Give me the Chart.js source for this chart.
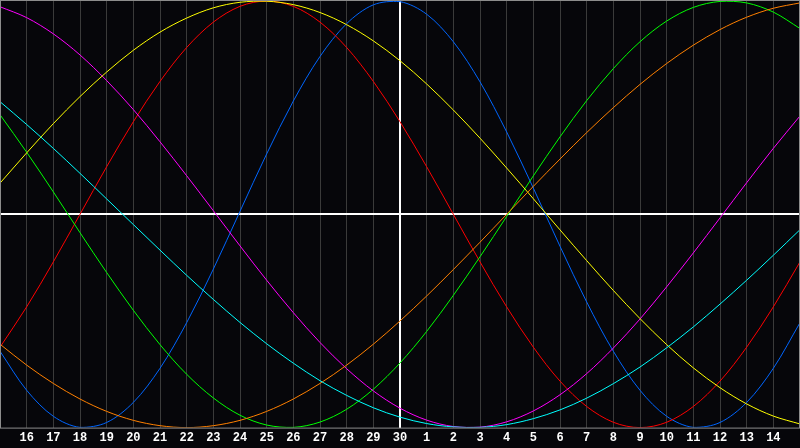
<!DOCTYPE html>
<html>
<head>
<meta charset="utf-8">
<script src="https://cdn.jsdelivr.net/npm/chart.js@4"></script>
<style>
  html, body { margin: 0; padding: 0; background: #06060a; }
  #bio { display: block; }
</style>
</head>
<body>
<canvas id="bio" width="800" height="448"></canvas>
<script>
// day labels: 15th of previous month .. 15th, today = 30
const dayLabels = ['15','16','17','18','19','20','21','22','23','24','25','26','27','28','29','30',
  '1','2','3','4','5','6','7','8','9','10','11','12','13','14','15'];

// values, one per day (-1 .. 1)
const physical = [-0.642,-0.825,-0.947,-0.999,-0.976,-0.882,-0.722,-0.508,-0.257,0.014,0.283,0.531,0.740,0.894,0.982,0.997,
  0.938,0.809,0.621,0.386,0.123,-0.150,-0.411,-0.642,-0.825,-0.947,-0.999,-0.976,-0.882,-0.722,-0.508];
const emotional = [-0.623,-0.434,-0.223,0.000,0.223,0.434,0.623,0.782,0.901,0.975,1.000,0.975,0.901,0.782,0.623,0.434,
  0.223,0.000,-0.223,-0.434,-0.623,-0.782,-0.901,-0.975,-1.000,-0.975,-0.901,-0.782,-0.623,-0.434,-0.223];
const intellectual = [0.467,0.291,0.105,-0.086,-0.273,-0.450,-0.611,-0.750,-0.861,-0.942,-0.988,-0.999,-0.974,-0.914,-0.820,-0.697,
  -0.549,-0.380,-0.199,-0.010,0.180,0.363,0.533,0.683,0.809,0.906,0.970,0.998,0.991,0.948,0.871];
const intuitive = [0.973,0.922,0.846,0.747,0.627,0.491,0.340,0.181,0.017,-0.148,-0.309,-0.461,-0.601,-0.724,-0.828,-0.909,
  -0.965,-0.995,-0.998,-0.973,-0.922,-0.846,-0.747,-0.627,-0.491,-0.340,-0.181,-0.017,0.148,0.309,0.461];
const aesthetic = [0.146,0.288,0.425,0.552,0.667,0.769,0.854,0.920,0.968,0.994,0.999,0.983,0.946,0.889,0.813,0.720,
  0.611,0.489,0.357,0.217,0.073,-0.073,-0.217,-0.357,-0.489,-0.611,-0.720,-0.813,-0.889,-0.946,-0.983];
const awareness = [-0.609,-0.707,-0.793,-0.866,-0.924,-0.966,-0.991,-1.000,-0.991,-0.966,-0.924,-0.866,-0.793,-0.707,-0.609,-0.500,
  -0.383,-0.259,-0.131,0.000,0.131,0.259,0.383,0.500,0.609,0.707,0.793,0.866,0.924,0.966,0.991];
const spiritual = [0.528,0.421,0.309,0.192,0.072,-0.048,-0.168,-0.286,-0.399,-0.507,-0.607,-0.698,-0.780,-0.849,-0.907,-0.951,
  -0.981,-0.997,-0.999,-0.986,-0.958,-0.917,-0.862,-0.794,-0.716,-0.626,-0.528,-0.421,-0.309,-0.192,-0.072];

const TODAY = 15;
const LAST = dayLabels.length - 1;

function line(data, color) {
  return { data, borderColor: color, borderWidth: 1, pointRadius: 0, tension: 0.33, fill: false };
}

// grey frame round the plot area
const framePlugin = {
  id: 'frame',
  afterDraw(chart) {
    const { ctx, chartArea: a } = chart;
    ctx.save();
    ctx.strokeStyle = '#8c8c8c';
    ctx.lineWidth = 1;
    ctx.strokeRect(a.left + 0.5, a.top - 0.5, a.right - a.left - 1, a.bottom - a.top + 1);
    ctx.restore();
  }
};

const bgPlugin = {
  id: 'bg',
  beforeDraw(chart) {
    const { ctx } = chart;
    ctx.save();
    ctx.fillStyle = '#06060a';
    ctx.fillRect(0, 0, chart.width, chart.height);
    ctx.restore();
  }
};

new Chart(document.getElementById('bio').getContext('2d'), {
  type: 'line',
  data: {
    labels: dayLabels,
    datasets: [
      line(spiritual, '#00ffff'),
      line(awareness, '#ff8000'),
      line(aesthetic, '#ffff00'),
      line(intuitive, '#ff00ff'),
      line(intellectual, '#00ff00'),
      line(emotional, '#ff0000'),
      line(physical, '#0066ff')
    ]
  },
  options: {
    responsive: false,
    animation: false,
    devicePixelRatio: 1,
    layout: { padding: { top: 1, left: 0, right: 0, bottom: 0 } },
    plugins: { legend: { display: false }, tooltip: { enabled: false } },
    scales: {
      x: {
        type: 'category',
        offset: false,
        border: { display: false },
        afterFit(s) { s.paddingLeft = 0; s.paddingRight = 0; },
        grid: {
          offset: false,
          drawTicks: false,
          color: c => c.index === TODAY ? '#ffffff' : (c.index === 0 || c.index === LAST ? 'rgba(0,0,0,0)' : '#3a3a3a'),
          lineWidth: c => c.index === TODAY ? 2 : 1
        },
        ticks: {
          autoSkip: false,
          maxRotation: 0,
          padding: 3,
          color: '#ffffff',
          font: { family: 'Liberation Mono', size: 12, weight: 'bold' },
          callback: (v, i) => (i === 0 || i === LAST) ? '' : dayLabels[i]
        }
      },
      y: {
        min: -1,
        max: 1,
        border: { display: false },
        afterFit(s) { s.width = 0; s.paddingTop = 0; s.paddingBottom = 0; },
        grid: {
          drawTicks: false,
          color: c => c.tick && c.tick.value === 0 ? '#ffffff' : 'rgba(0,0,0,0)',
          lineWidth: c => c.tick && c.tick.value === 0 ? 2 : 1
        },
        ticks: { display: false, stepSize: 1 }
      }
    }
  },
  plugins: [bgPlugin, framePlugin]
});
</script>
</body>
</html>
